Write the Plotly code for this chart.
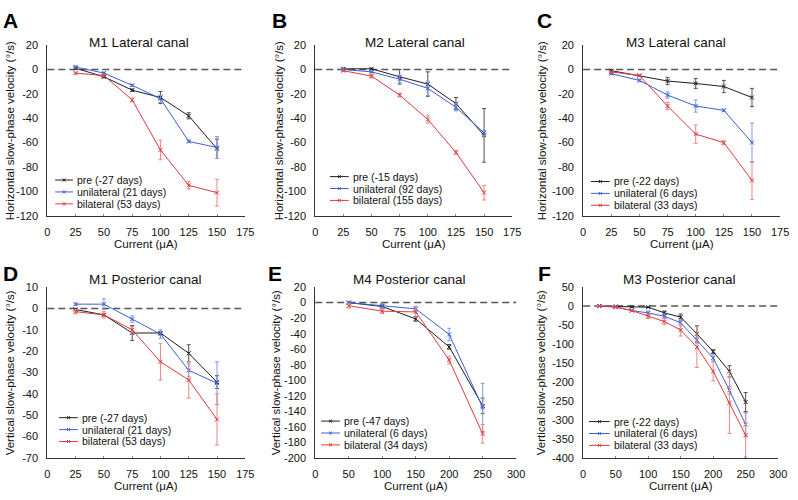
import plotly.graph_objects as go

# ---------------- data ----------------
series_names = ["pre", "unilateral", "bilateral"]

# Panel A: M1 Lateral canal
A_current = [25, 50, 75, 100, 125, 150]
A_pre = [1, -6, -17, -23, -38, -65]
A_pre_err = [0.8, 0.8, 1, 5, 2.5, 8]
A_uni = [2, -3, -13, -24, -59, -64]
A_uni_err = [0.8, 0.8, 0.8, 3, 1, 9]
A_bi = [-3, -5, -25, -66, -95, -101]
A_bi_err = [0.8, 0.8, 1.5, 8, 3, 11]
A_labels = ["pre (-27 days)", "unilateral (21 days)", "bilateral (53 days)"]

# Panel B: M2 Lateral canal
B_current = [25, 50, 75, 100, 125, 150]
B_pre = [0.5, 0.5, -6, -12, -28, -54]
B_pre_err = [0.5, 0.5, 6, 10, 5, 22]
B_uni = [0, -2, -8, -15.5, -31, -52]
B_uni_err = [0.5, 0.5, 3, 6, 3, 2]
B_bi = [-1, -5.5, -21, -41, -68, -101]
B_bi_err = [0.5, 1.5, 1.5, 3, 1.5, 6]
B_labels = ["pre (-15 days)", "unilateral (92 days)", "bilateral (155 days)"]

# Panel C: M3 Lateral canal
C_current = [25, 50, 75, 100, 125, 150]
C_pre = [-1, -5, -9.5, -11.5, -14, -23]
C_pre_err = [0.5, 0.5, 3, 4, 5, 7.5]
C_uni = [-3.5, -9, -21, -30, -33.5, -60]
C_uni_err = [0.5, 1, 2.5, 5, 1, 16]
C_bi = [-2, -5, -30, -53, -60, -91]
C_bi_err = [0.5, 0.5, 3, 7.5, 1.5, 15.5]
C_labels = ["pre (-22 days)", "unilateral (6 days)", "bilateral (33 days)"]

# Panel D: M1 Posterior canal
D_current = [25, 50, 75, 100, 125, 150]
D_pre = [-0.5, -3, -11.5, -11.5, -21, -34.5]
D_pre_err = [0.5, 0.5, 3.5, 0.5, 4, 3]
D_uni = [2, 2, -5, -12, -29, -35]
D_uni_err = [0.5, 2.5, 1.5, 2, 3, 10]
D_bi = [-1.5, -3, -10, -25, -33.5, -52]
D_bi_err = [1, 1.5, 1.5, 8.5, 8.5, 12]
D_labels = ["pre (-27 days)", "unilateral (21 days)", "bilateral (53 days)"]

# Panel E: M4 Posterior canal
E_current = [50, 100, 150, 200, 250]
E_pre = [0, -5, -21, -57, -133]
E_pre_err = [1, 2, 3, 3, 10]
E_uni = [0, -4, -8, -41, -135]
E_uni_err = [1, 3, 3, 8, 31]
E_bi = [-4, -11, -12, -74, -169]
E_bi_err = [3, 3, 7, 5, 12]
E_labels = ["pre (-47 days)", "unilateral (6 days)", "bilateral (34 days)"]

# Panel F: M3 Posterior canal
F_current = [25, 50, 75, 100, 125, 150, 175, 200, 225, 250]
F_pre = [0, -1, -2, -3, -18, -29, -73, -120, -172, -253]
F_pre_err = [0.5, 0.5, 1, 1, 5, 8, 21, 5, 15, 25]
F_uni = [0, -2, -12, -18, -27, -44, -90, -137, -222, -312]
F_uni_err = [0.5, 0.5, 1, 5, 6, 8, 8, 8, 10, 32]
F_bi = [0, -3, -12, -27, -41, -63, -108, -172, -255, -340]
F_bi_err = [0.5, 1, 2, 6, 8, 16, 54, 25, 81, 58]
F_labels = ["pre (-22 days)", "unilateral (6 days)", "bilateral (33 days)"]

H_label = "Horizontal slow-phase velocity (°/s)"
V_label = "Vertical slow-phase velocity (°/s)"
X_label = "Current (μA)"

# ---------------- styling / layout ----------------
W, H = 798, 500
FONT = "Arial, 'Liberation Sans', Helvetica, sans-serif"
COLORS = ["#1e1e1e", "#3d5ed8", "#e0393f"]
ERR_COLORS = ["#505050", "#8297e6", "#ec8589"]
LEG_GAP = 12.2


def px(x):
    return x / W


def py(y):
    return 1 - y / H


panels = [
    dict(letter="A", title="M1 Lateral canal", ylabel=H_label, x=A_current,
         ys=[(A_pre, A_pre_err), (A_uni, A_uni_err), (A_bi, A_bi_err)], labels=A_labels,
         xr=[0, 175], xd=25, yr=[-120, 20], yd=20,
         box=(45, 246, 40, 215), letter_xy=(8, 15), title_x=138, title_y=37, ytitle_x=8,
         leg=(53, 71, 74, 190.5)),
    dict(letter="B", title="M2 Lateral canal", ylabel=H_label, x=B_current,
         ys=[(B_pre, B_pre_err), (B_uni, B_uni_err), (B_bi, B_bi_err)], labels=B_labels,
         xr=[0, 175], xd=25, yr=[-120, 20], yd=20,
         box=(317, 517, 40, 215), letter_xy=(281, 15), title_x=418, title_y=37, ytitle_x=281,
         leg=(332, 351, 354, 187)),
    dict(letter="C", title="M3 Lateral canal", ylabel=H_label, x=C_current,
         ys=[(C_pre, C_pre_err), (C_uni, C_uni_err), (C_bi, C_bi_err)], labels=C_labels,
         xr=[0, 175], xd=25, yr=[-120, 20], yd=20,
         box=(589, 789, 40, 215), letter_xy=(550, 15), title_x=683, title_y=37, ytitle_x=548,
         leg=(597, 616, 619, 192)),
    dict(letter="D", title="M1 Posterior canal", ylabel=V_label, x=D_current,
         ys=[(D_pre, D_pre_err), (D_uni, D_uni_err), (D_bi, D_bi_err)], labels=D_labels,
         xr=[0, 175], xd=25, yr=[-70, 10], yd=10,
         box=(45, 246, 288, 463), letter_xy=(8, 274), title_x=145, title_y=280, ytitle_x=8,
         leg=(57, 76, 79, 434)),
    dict(letter="E", title="M4 Posterior canal", ylabel=V_label, x=E_current,
         ys=[(E_pre, E_pre_err), (E_uni, E_uni_err), (E_bi, E_bi_err)], labels=E_labels,
         xr=[0, 300], xd=50, yr=[-200, 20], yd=20,
         box=(317, 521, 288, 463), letter_xy=(276, 274), title_x=413, title_y=280, ytitle_x=278,
         leg=(323, 342, 345, 437.5)),
    dict(letter="F", title="M3 Posterior canal", ylabel=V_label, x=F_current,
         ys=[(F_pre, F_pre_err), (F_uni, F_uni_err), (F_bi, F_bi_err)], labels=F_labels,
         xr=[0, 300], xd=50, yr=[-400, 50], yd=50,
         box=(589, 787, 288, 463), letter_xy=(550, 274), title_x=687, title_y=280, ytitle_x=547,
         leg=(595, 616, 619, 438)),
]

fig = go.Figure()
annotations = []
shapes = []
layout_axes = {}

for i, p in enumerate(panels, start=1):
    key = "" if i == 1 else str(i)
    xa = "x" + key
    ya = "y" + key
    x0, x1, y0, y1 = p["box"]
    for k, (vals, err) in enumerate(p["ys"]):
        fig.add_trace(go.Scatter(
            x=p["x"], y=vals, xaxis=xa, yaxis=ya, mode="lines+markers",
            name=series_names[k], showlegend=False, cliponaxis=False,
            line=dict(color=COLORS[k], width=1),
            marker=dict(symbol="x-thin", size=4, line=dict(color=COLORS[k], width=1)),
            error_y=dict(type="data", array=err, color=ERR_COLORS[k], thickness=1, width=2),
        ))
    xt = list(range(p["xr"][0], p["xr"][1] + 1, p["xd"]))
    yt = list(range(p["yr"][0], p["yr"][1] + 1, p["yd"]))
    layout_axes["xaxis" + key] = dict(
        domain=[px(x0), px(x1)], anchor=ya, range=p["xr"], tickvals=xt,
        ticktext=[str(v) for v in xt], showgrid=False, zeroline=False,
        showline=True, linecolor="#333", linewidth=1, ticks="inside", ticklen=2,
        tickcolor="#888", tickfont=dict(family=FONT, size=11, color="#111"),
        ticklabelstandoff=6,
    )
    layout_axes["yaxis" + key] = dict(
        domain=[py(y1), py(y0)], anchor=xa, range=p["yr"], tickvals=yt,
        ticktext=[str(v) for v in yt], showgrid=False, zeroline=False,
        showline=True, linecolor="#333", linewidth=1, ticks="",
        tickfont=dict(family=FONT, size=11, color="#111"), ticklabelstandoff=6,
    )
    # dashed zero reference line
    shapes.append(dict(type="line", xref=f"{xa} domain", yref=ya, x0=0, x1=1, y0=0, y1=0,
                       line=dict(color="#555", width=1.5, dash="7px,4px"), layer="below"))
    # titles and labels
    annotations.append(dict(text=p["title"], x=px(p["title_x"]), y=py(p["title_y"]), xref="paper",
                            yref="paper", showarrow=False, xanchor="center", yanchor="middle",
                            font=dict(family=FONT, size=13.5, color="#111")))
    lx, ly = p["letter_xy"]
    annotations.append(dict(text=f"<b>{p['letter']}</b>", x=px(lx), y=py(ly), xref="paper", yref="paper",
                            showarrow=False, xanchor="center", yanchor="middle",
                            font=dict(family=FONT, size=21, color="#000")))
    annotations.append(dict(text=p["ylabel"], x=px(p["ytitle_x"]), y=py((y0 + y1) / 2), xref="paper",
                            yref="paper", showarrow=False, textangle=-90, xanchor="center",
                            yanchor="middle", font=dict(family=FONT, size=11.5, color="#111")))
    annotations.append(dict(text=X_label, x=px((x0 + x1) / 2), y=py(y1 + 29), xref="paper",
                            yref="paper", showarrow=False, xanchor="center", yanchor="middle",
                            font=dict(family=FONT, size=11.5, color="#111")))
    # compact legend drawn as keys + text
    lx0, lx1, tx, mid = p["leg"]
    for k in range(3):
        ry = mid + (k - 1) * LEG_GAP
        shapes.append(dict(type="line", xref="paper", yref="paper", x0=px(lx0), x1=px(lx1),
                           y0=py(ry), y1=py(ry), line=dict(color=COLORS[k], width=1)))
        cx = (lx0 + lx1) / 2
        d = 1.5
        path = (f"M {px(cx - d)},{py(ry - d)} L {px(cx + d)},{py(ry + d)} "
                f"M {px(cx - d)},{py(ry + d)} L {px(cx + d)},{py(ry - d)}")
        shapes.append(dict(type="path", xref="paper", yref="paper", path=path,
                           line=dict(color=COLORS[k], width=1)))
        annotations.append(dict(text=p["labels"][k], x=px(tx), y=py(ry), xref="paper", yref="paper",
                                showarrow=False, xanchor="left", yanchor="middle", borderpad=0,
                                font=dict(family=FONT, size=10.5, color="#111")))

fig.update_layout(
    width=W, height=H, margin=dict(l=0, r=0, t=0, b=0),
    paper_bgcolor="white", plot_bgcolor="white", showlegend=False,
    annotations=annotations, shapes=shapes, **layout_axes,
)

fig.write_html("out.html", config={"displayModeBar": False},
               post_script="document.body.style.margin='0';")
